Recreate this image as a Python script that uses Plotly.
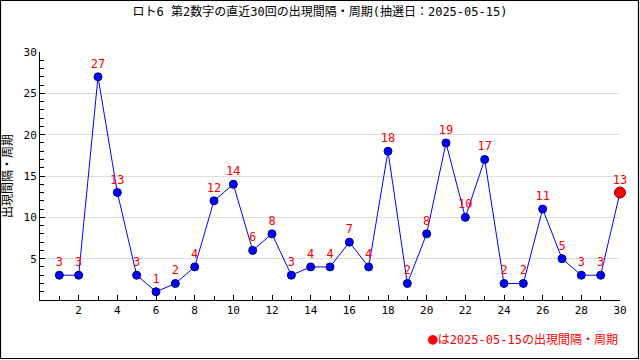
import plotly.graph_objects as go

draws = list(range(1, 31))
intervals = [3, 3, 27, 13, 3, 1, 2, 4, 12, 14, 6, 8, 3, 4, 4, 7, 4, 18, 2, 8, 19, 10, 17, 2, 2, 11, 5, 3, 3, 13]
title = "ロト6 第2数字の直近30回の出現間隔・周期(抽選日：2025-05-15)"
y_title = "出現間隔・周期"
legend_mark = "●"
legend_text = "は2025-05-15の出現間隔・周期"
x_ticks = list(range(2, 31, 2))
y_ticks = [5, 10, 15, 20, 25, 30]

FONT = "DejaVu Sans Mono, Noto Sans CJK JP"

fig = go.Figure()
fig.add_trace(go.Scatter(
    x=draws, y=intervals, mode="lines+markers+text",
    line=dict(color="#0000ff", width=1),
    marker=dict(color="#0000ff", size=8, line=dict(color="#000080", width=1)),
    text=[str(v) for v in intervals], textposition="top center",
    textfont=dict(color="#ff0000", size=12, family=FONT),
    hoverinfo="x+y", cliponaxis=False,
))
fig.add_trace(go.Scatter(
    x=draws[-1:], y=intervals[-1:], mode="markers",
    marker=dict(color="#ff0000", size=11, line=dict(color="#800000", width=1)),
    hoverinfo="skip", cliponaxis=False,
))

L, R, T, B = 40, 20, 52, 60
W, H = 640, 360
pw, ph = W - L - R, H - T - B

def px_x(p):
    return (p - L) / pw

def px_y(p):
    return (T + ph - p) / ph

fig.update_layout(
    width=W, height=H,
    margin=dict(l=L, r=R, t=T, b=B, autoexpand=False),
    paper_bgcolor="white", plot_bgcolor="white",
    showlegend=False,
    font=dict(family=FONT, size=11, color="#000000"),
    title=dict(text=title, x=0.5, xanchor="center", y=1 - 12 / H, yanchor="middle",
               font=dict(size=12, family=FONT, color="#000000")),
    xaxis=dict(range=[0, 30], tickvals=x_ticks, ticks="inside", ticklen=5,
               tickcolor="#000", showline=True, linecolor="#000", linewidth=1,
               showgrid=False, zeroline=False, automargin=False,
               minor=dict(dtick=1, tick0=0, ticks="inside", ticklen=4, tickcolor="#000", showgrid=False),
               tickfont=dict(size=11, family=FONT)),
    yaxis=dict(range=[0, 30], tickvals=y_ticks, ticks="inside", ticklen=5,
               tickcolor="#000", showline=True, linecolor="#000", linewidth=1,
               showgrid=True, gridcolor="#dddddd", zeroline=False, automargin=False,
               minor=dict(dtick=1, tick0=0, ticks="inside", ticklen=4, tickcolor="#000", showgrid=False),
               tickfont=dict(size=11, family=FONT)),
    shapes=[dict(type="rect", xref="paper", yref="paper",
                 x0=px_x(0.5), x1=px_x(W - 1.5),
                 y0=px_y(H - 1.5), y1=px_y(0.5),
                 line=dict(color="#000", width=1.2), fillcolor="rgba(0,0,0,0)")],
    annotations=[
        dict(text=f"<span style='font-size:16px'>{legend_mark}</span>{legend_text}",
             xref="paper", yref="paper",
             x=1.0, xanchor="right", y=px_y(338), yanchor="middle",
             showarrow=False, font=dict(color="#ff0000", size=12, family=FONT)),
        dict(text=y_title, xref="paper", yref="paper", textangle=-90,
             x=px_x(8), xanchor="center", y=px_y(176), yanchor="middle",
             showarrow=False, font=dict(color="#000", size=12, family=FONT)),
    ],
)

fig.write_html("out.html", config={"displayModeBar": False},
               post_script="document.body.style.margin='0';document.body.style.overflow='hidden';")
